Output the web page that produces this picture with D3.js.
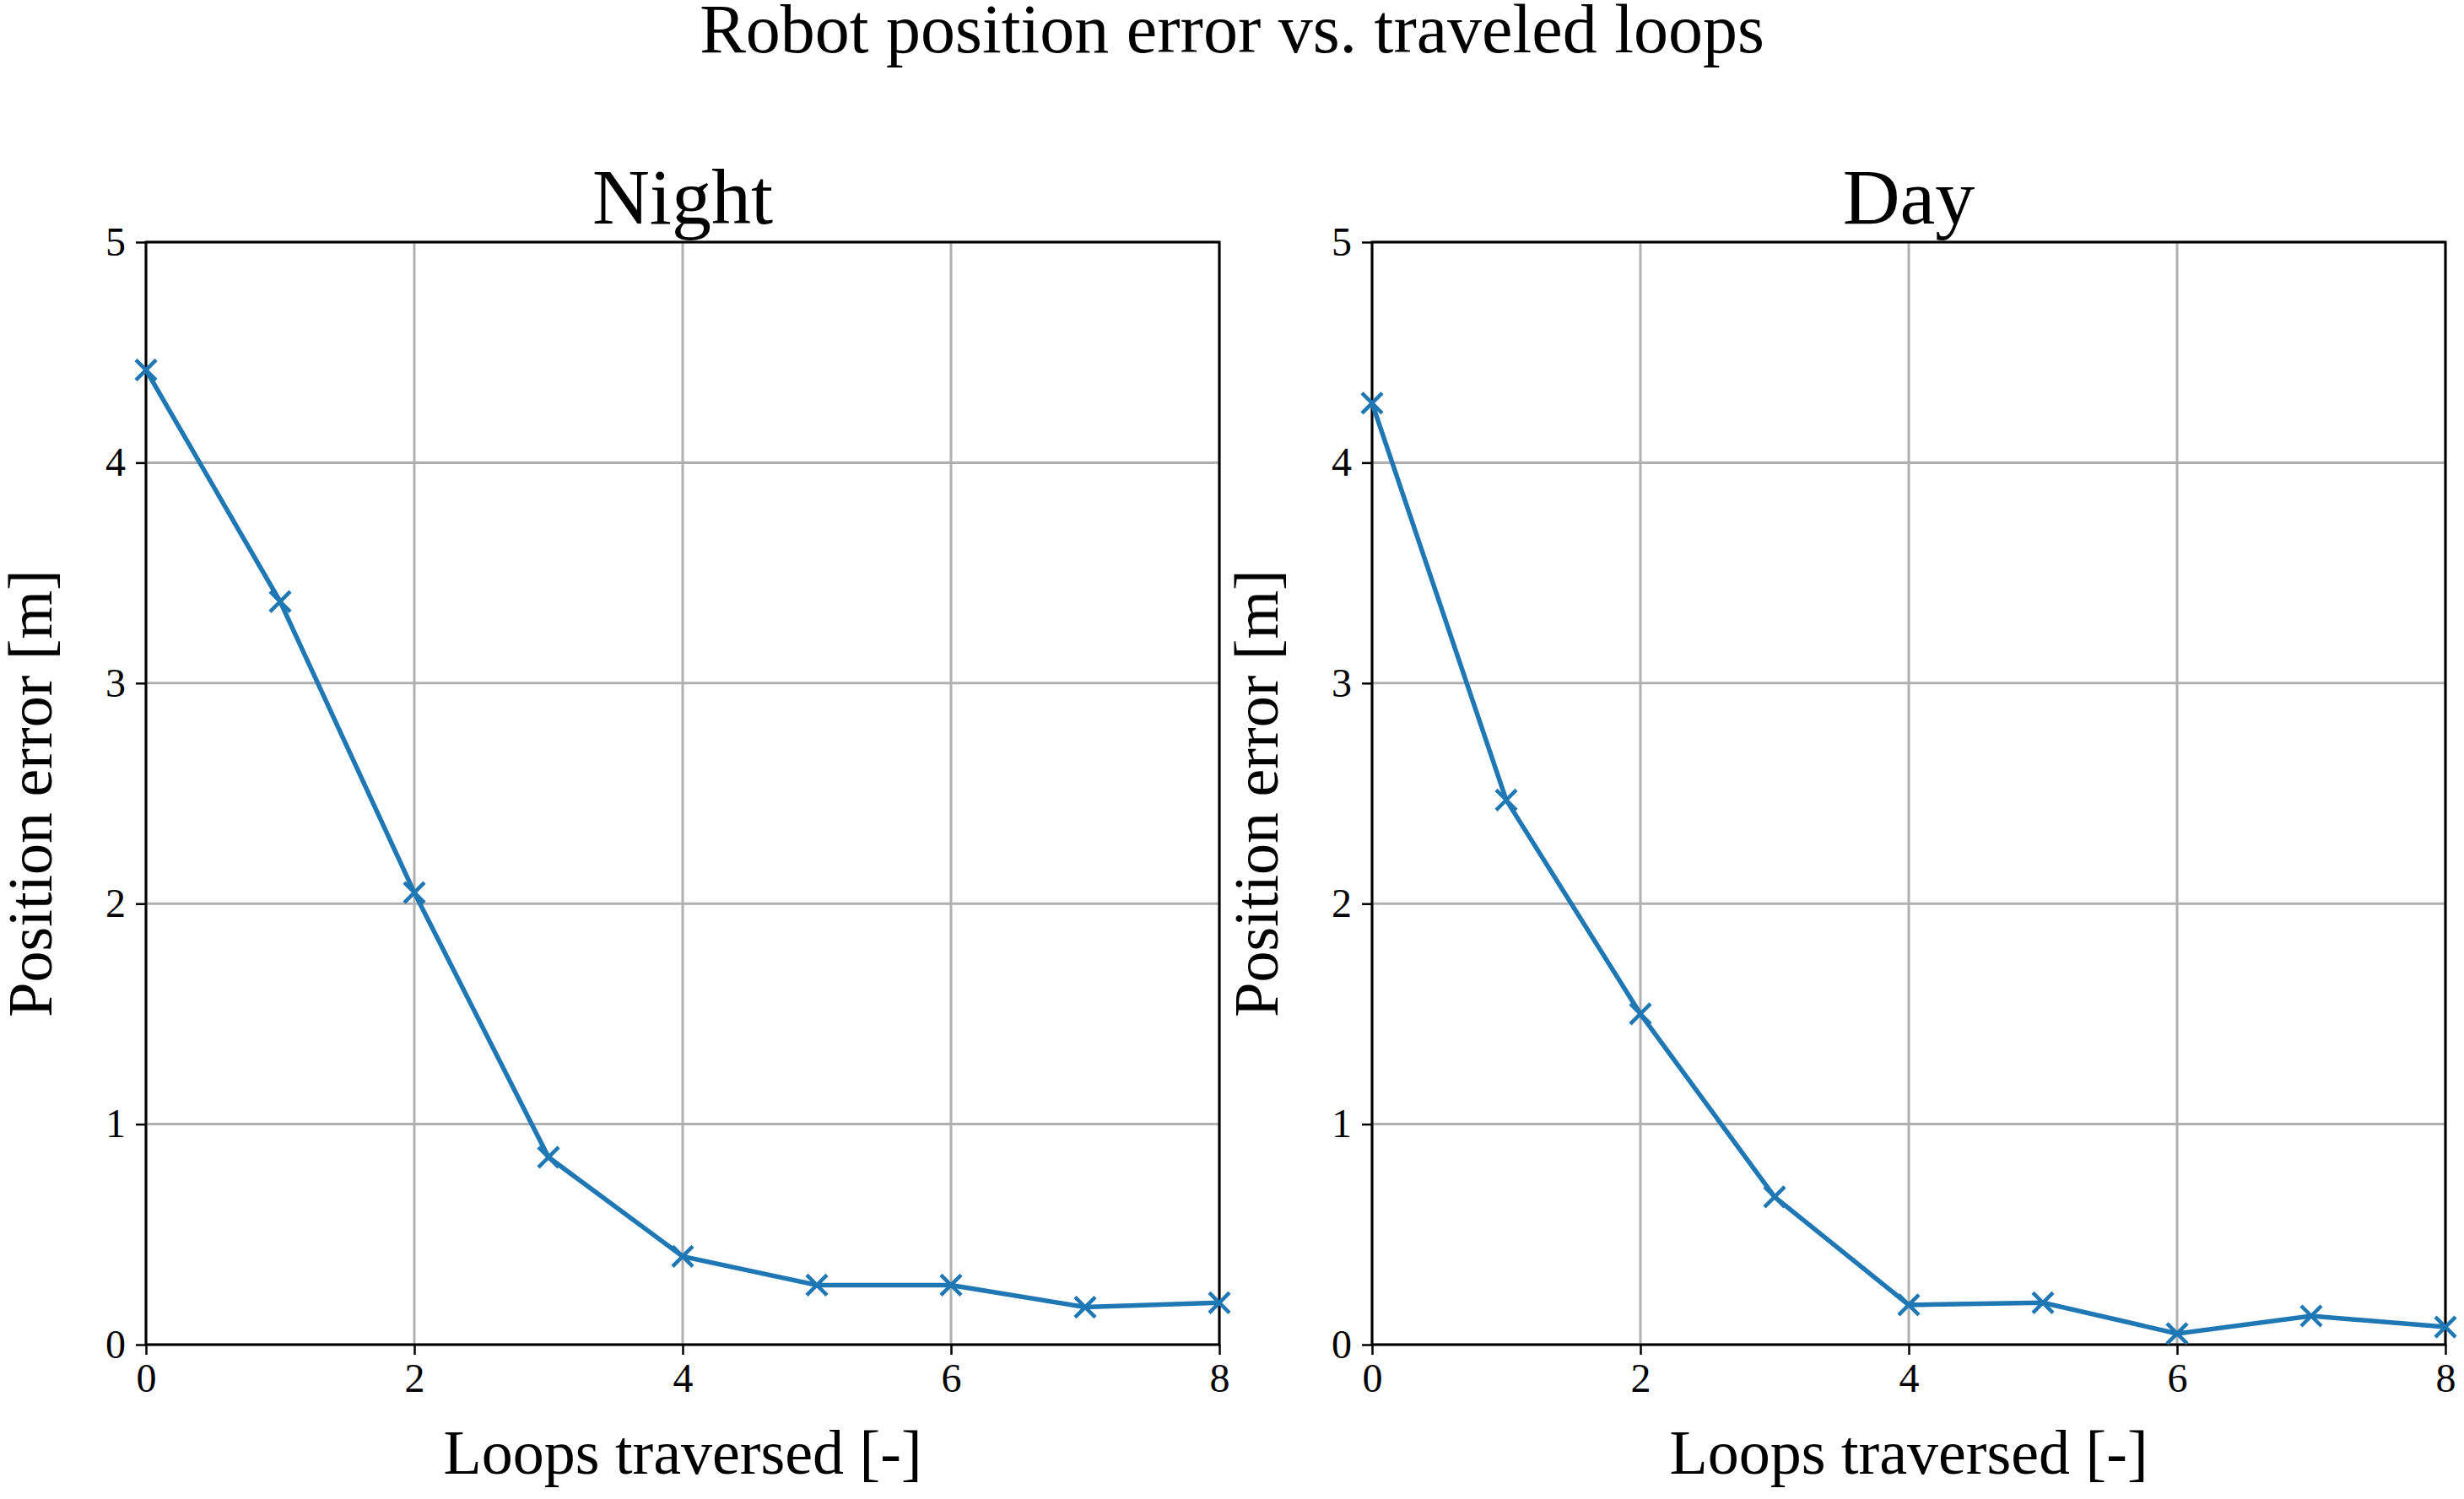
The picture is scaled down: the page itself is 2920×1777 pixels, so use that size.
<!DOCTYPE html>
<html><head><meta charset="utf-8">
<script src="https://cdn.jsdelivr.net/npm/d3@7"></script>
<style>body{margin:0;background:#fff}svg{display:block}text{font-family:"Liberation Serif","DejaVu Serif",serif;fill:#000}</style>
</head><body>
<script>
var loops = [0, 1, 2, 3, 4, 5, 6, 7, 8];
var nightError = [4.42, 3.37, 2.05, 0.85, 0.40, 0.27, 0.27, 0.17, 0.19];
var dayError = [4.27, 2.47, 1.50, 0.67, 0.18, 0.19, 0.05, 0.13, 0.08];
var xTicks = [0, 2, 4, 6, 8];
var yTicks = [0, 1, 2, 3, 4, 5];

var width = 2920, height = 1777;
var svg = d3.select('body').append('svg').attr('width', width).attr('height', height);

svg.append('text').attr('x', width / 2).attr('y', 62).attr('text-anchor', 'middle')
  .style('font-size', '82px').text('Robot position error vs. traveled loops');

function panel(left, title, values) {
  var top = 287, bottom = 1594, right = left + 1272;
  var x = d3.scaleLinear().domain([0, 8]).range([left, right]);
  var y = d3.scaleLinear().domain([0, 5]).range([bottom, top]);
  var g = svg.append('g');

  g.selectAll('.gx').data(xTicks).enter().append('line')
    .attr('x1', x).attr('x2', x).attr('y1', top).attr('y2', bottom)
    .attr('stroke', '#b0b0b0').attr('stroke-width', 3);
  g.selectAll('.gy').data(yTicks).enter().append('line')
    .attr('y1', y).attr('y2', y).attr('x1', left).attr('x2', right)
    .attr('stroke', '#b0b0b0').attr('stroke-width', 3);

  var xa = g.append('g').attr('transform', 'translate(0,' + bottom + ')')
    .call(d3.axisBottom(x).tickValues(xTicks).tickFormat(d3.format('d')).tickSize(12).tickPadding(10));
  var ya = g.append('g').attr('transform', 'translate(' + left + ',0)')
    .call(d3.axisLeft(y).tickValues(yTicks).tickFormat(d3.format('d')).tickSize(12).tickPadding(12));
  [xa, ya].forEach(function(a) {
    a.select('.domain').remove();
    a.selectAll('line').attr('stroke-width', 2.5);
    a.selectAll('text').style('font-size', '48px').style('font-family', '"Liberation Serif",serif');
  });

  g.append('rect').attr('x', left).attr('y', top).attr('width', right - left).attr('height', bottom - top)
    .attr('fill', 'none').attr('stroke', '#000').attr('stroke-width', 3);

  var line = d3.line().x(function(d, i) { return x(loops[i]); }).y(function(d) { return y(d); });
  g.append('path').datum(values).attr('d', line).attr('fill', 'none')
    .attr('stroke', '#1f77b4').attr('stroke-width', 5.5);
  var s = 12;
  g.selectAll('.m').data(values).enter().append('path')
    .attr('d', function(d, i) {
      var cx = x(loops[i]), cy = y(d);
      return 'M' + (cx - s) + ',' + (cy - s) + 'L' + (cx + s) + ',' + (cy + s) +
        'M' + (cx - s) + ',' + (cy + s) + 'L' + (cx + s) + ',' + (cy - s);
    })
    .attr('stroke', '#1f77b4').attr('stroke-width', 4.5).attr('fill', 'none');

  g.append('text').attr('x', (left + right) / 2).attr('y', top - 22).attr('text-anchor', 'middle')
    .style('font-size', '94px').text(title);
  g.append('text').attr('x', (left + right) / 2).attr('y', bottom + 153).attr('text-anchor', 'middle')
    .style('font-size', '74px').text('Loops traversed [-]');
  g.append('text').attr('transform', 'translate(' + (left - 112) + ',' + ((top + bottom) / 2) + ') rotate(-90)')
    .attr('text-anchor', 'middle').style('font-size', '74px').text('Position error [m]');
}

panel(173, 'Night', nightError);
panel(1626, 'Day', dayError);
</script>
</body></html>
